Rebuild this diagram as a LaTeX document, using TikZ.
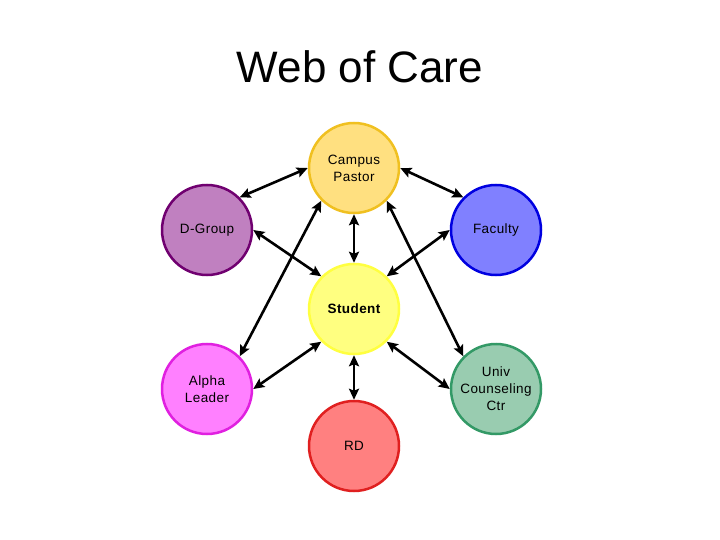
\documentclass[tikz,border=0pt]{standalone}
\usepackage{fontspec}
\setmainfont{Liberation Sans}
\usetikzlibrary{arrows.meta}
\definecolor{cpF}{HTML}{FFE080}\definecolor{cpD}{HTML}{F0C020}
\definecolor{dgF}{HTML}{C080C0}\definecolor{dgD}{HTML}{700070}
\definecolor{faF}{HTML}{8080FF}\definecolor{faD}{HTML}{0000E0}
\definecolor{stF}{HTML}{FFFF80}\definecolor{stD}{HTML}{FFFF40}
\definecolor{alF}{HTML}{FF80FF}\definecolor{alD}{HTML}{E020E0}
\definecolor{ucF}{HTML}{99CCB0}\definecolor{ucD}{HTML}{339966}
\definecolor{rdF}{HTML}{FF8080}\definecolor{rdD}{HTML}{E02020}
\begin{document}
\begin{tikzpicture}[x=1pt,y=-1pt,
  person/.style={circle,minimum size=90pt,inner sep=0pt,line width=2.5pt,align=center,
    font=\fontsize{13.5}{17}\selectfont\addfontfeatures{LetterSpace=3}},
  link/.style={line width=2.6pt,{Stealth[length=11pt,width=10pt,inset=2pt]}-{Stealth[length=11pt,width=10pt,inset=2pt]}}]
\useasboundingbox (0,0) rectangle (720,540);
\node[anchor=base,font=\fontsize{44}{50}\selectfont] (title) at (360,83) {Web of Care};
\node[person,fill=cpF,draw=cpD] (cp) at (354,168) {Campus\\Pastor};
\node[person,fill=dgF,draw=dgD] (dg) at (207,230) {D-Group};
\node[person,fill=faF,draw=faD] (fa) at (496,230) {Faculty};
\node[person,fill=stF,draw=stD,font=\fontsize{13.5}{17}\selectfont\bfseries\addfontfeatures{LetterSpace=3}] (st) at (354,309) {Student};
\node[person,fill=alF,draw=alD] (al) at (207,389) {Alpha\\Leader};
\node[person,fill=ucF,draw=ucD] (uc) at (496,389) {Univ\\Counseling\\Ctr};
\node[person,fill=rdF,draw=rdD] (rd) at (354,446) {RD};
\draw[link] (cp.180) -- (dg.45);
\draw[link] (cp.0) -- (fa.135);
\draw[link] (cp.270) -- (st.90);
\draw[link] (dg.0) -- (st.135);
\draw[link] (fa.180) -- (st.45);
\draw[link] (cp.225) -- (al.45);
\draw[link] (cp.315) -- (uc.135);
\draw[link] (st.225) -- (al.0);
\draw[link] (st.315) -- (uc.180);
\draw[link] (st.270) -- (rd.90);
\end{tikzpicture}
\end{document}
